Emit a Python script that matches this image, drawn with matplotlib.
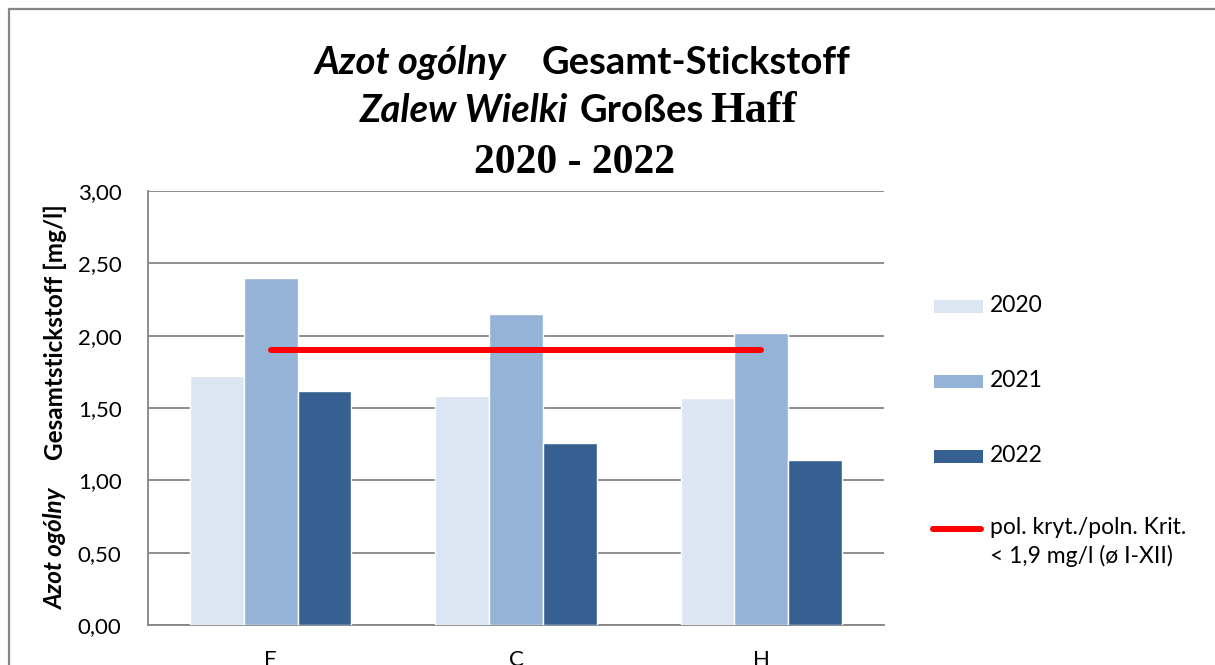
import matplotlib
matplotlib.use("Agg")
import matplotlib.pyplot as plt
import numpy as np
from matplotlib.patches import Rectangle
from matplotlib.lines import Line2D

# ---- data ----
categories = ["F", "C", "H"]
years = ["2020", "2021", "2022"]
values_2020 = [1.72, 1.58, 1.57]
values_2021 = [2.40, 2.15, 2.02]
values_2022 = [1.62, 1.26, 1.14]
criterion = [1.90, 1.90, 1.90]
criterion_label = "pol. kryt./poln. Krit.\n< 1,9 mg/l (ø I-XII)"
yticks = [0.0, 0.5, 1.0, 1.5, 2.0, 2.5, 3.0]
ytick_labels = ["0,00", "0,50", "1,00", "1,50", "2,00", "2,50", "3,00"]

colors = ["#DCE6F2", "#95B3D7", "#376092"]
grid_c = "#868686"
SANS = "Lato"
SERIF = "Liberation Serif"

W, H = 1215, 665
fig = plt.figure(figsize=(W / 100, H / 100), dpi=100)
fig.patch.set_facecolor("white")


def fx(x):
    return x / W


def fy(y):
    return 1 - y / H


# outer chart border (cropped at right/bottom)
fig.add_artist(Rectangle((fx(9), fy(H + 20)), fx(W + 40), (H + 20 - 9) / H,
                         transform=fig.transFigure, fill=False,
                         edgecolor=grid_c, lw=1.6))

ax = fig.add_axes([fx(148), fy(625), (884 - 148) / W, (625 - 191) / H])
x = np.arange(len(categories))
bw = 0.219
series = [values_2020, values_2021, values_2022]
for i, (vals, c) in enumerate(zip(series, colors)):
    ax.bar(x + (i - 1) * bw, vals, width=bw, color=c, edgecolor="white",
           linewidth=1.0, zorder=3)
ax.plot(x, criterion, color="#FF0000", lw=4.3, solid_capstyle="round", zorder=4)

ax.set_xlim(-0.5, len(categories) - 0.5)
ax.set_ylim(0, 3.0)
ax.set_yticks(yticks)
ax.set_yticklabels(ytick_labels, fontfamily=SANS, fontsize=16)
ax.set_xticks(x)
ax.set_xticklabels(categories, fontfamily=SANS, fontsize=16)
ax.tick_params(axis="both", length=0)
ax.tick_params(axis="y", pad=19)
ax.tick_params(axis="x", pad=18)
ax.yaxis.grid(True, color=grid_c, lw=1.3, zorder=0)
ax.set_axisbelow(True)
for s in ["top", "right"]:
    ax.spines[s].set_visible(False)
for s in ["left", "bottom"]:
    ax.spines[s].set_color(grid_c)
    ax.spines[s].set_linewidth(1.3)

# title pieces
T_SANS = 27.5
fig.text(fx(506), fy(74), "Azot ogólny", fontfamily=SANS, fontweight="bold",
         fontstyle="italic", fontsize=T_SANS, ha="right", va="baseline")
fig.text(fx(542), fy(74), "Gesamt-Stickstoff", fontfamily=SANS, fontweight="bold",
         fontsize=T_SANS, ha="left", va="baseline")
fig.text(fx(568), fy(122), "Zalew Wielki", fontfamily=SANS, fontweight="bold",
         fontstyle="italic", fontsize=T_SANS, ha="right", va="baseline")
fig.text(fx(580), fy(122), "Großes", fontfamily=SANS, fontweight="bold",
         fontsize=T_SANS, ha="left", va="baseline")
fig.text(fx(710), fy(122), "Haff", fontfamily=SERIF, fontweight="bold",
         fontsize=32, ha="left", va="baseline")
fig.text(fx(575), fy(173), "2020 - 2022", fontfamily=SERIF, fontweight="bold",
         fontsize=30, ha="center", va="baseline")

# y-axis label (rotated, two styles)
fig.text(fx(63), fy(548), "Azot ogólny", fontfamily=SANS, fontweight="bold",
         fontstyle="italic", fontsize=17.5, rotation=90, rotation_mode="anchor",
         ha="center", va="baseline")
fig.text(fx(63), fy(332), "Gesamtstickstoff [mg/l]", fontfamily=SANS,
         fontweight="bold", fontsize=17.5, rotation=90, rotation_mode="anchor",
         ha="center", va="baseline")

# legend (manual)
leg_y = [306, 381, 456]
for yc, c, lab in zip(leg_y, colors, years):
    fig.add_artist(Rectangle((fx(934), fy(yc + 6.5)), 49 / W, 13 / H,
                             transform=fig.transFigure, facecolor=c,
                             edgecolor="none"))
    fig.text(fx(990), fy(yc), lab, fontfamily=SANS, fontsize=16.5,
             ha="left", va="center")
fig.add_artist(Line2D([fx(933), fx(981)], [fy(529), fy(529)],
                      transform=fig.transFigure, color="#FF0000", lw=4.3,
                      solid_capstyle="round"))
fig.text(fx(990), fy(517), criterion_label, fontfamily=SANS, fontsize=16.5,
         ha="left", va="top", linespacing=1.4)

fig.savefig("out.png", dpi=100, facecolor="white")
